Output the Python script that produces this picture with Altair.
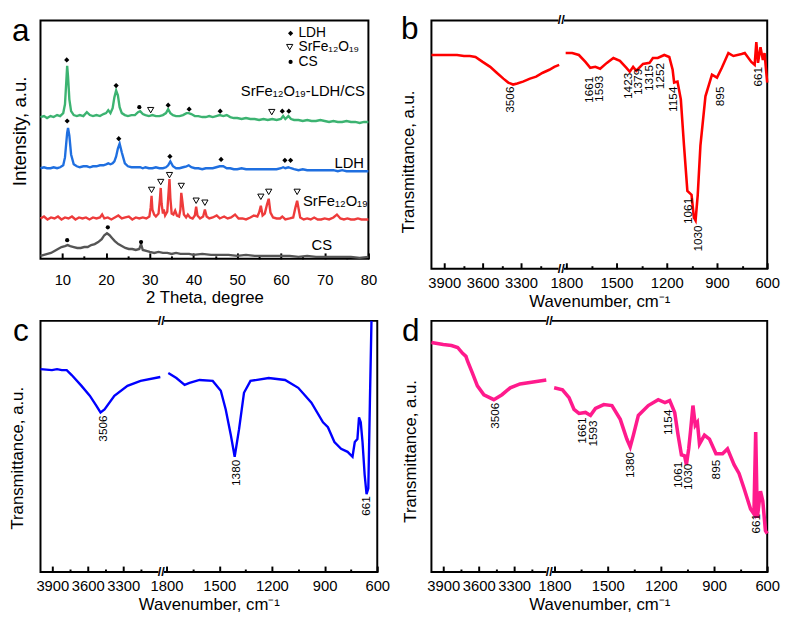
import altair as alt
import pandas as pd

FONT = "Liberation Sans"

# ---------------- (a) XRD patterns ----------------
theta_gb = [5, 5.8, 6.5, 7.3, 8, 8.8, 9.5, 10.2, 10.6, 10.9, 11.1, 11.3, 11.6, 12, 12.6, 13.3, 14, 14.8,
            15.6, 16.3, 17, 17.8, 18.6, 19.4, 20, 20.5, 21, 21.5, 21.9, 22.3, 22.7, 23.1, 23.6, 24.3, 25,
            25.8, 26.6, 27.3, 27.8, 28.4, 29, 29.8, 30.6, 31.4, 32.2, 33, 33.7, 34.2, 34.7, 35.3, 36, 36.8,
            37.6, 38.4, 38.9, 39.5, 40.3, 41.1, 42, 42.8, 43.6, 44.4, 45.2, 46, 46.8, 47.6, 48.4, 49.2, 50,
            51, 52, 53, 54, 55, 56, 57, 58, 59, 60, 60.5, 61, 61.7, 62.3, 63, 64, 65, 66, 67, 68, 69, 70,
            71, 72, 73, 74, 75, 76, 77, 78, 79, 80]
h_green = [144, 145, 143, 145, 144, 146, 145, 148, 157, 180, 196, 185, 162, 150, 146, 145, 146, 145,
           149, 146, 145, 146, 145, 147, 148, 151, 148, 153, 164, 171, 166, 154, 148, 146, 145,
           146, 146, 149, 150, 147, 146, 145, 146, 145, 145, 146, 148, 152, 148, 146, 145, 145,
           146, 148, 148, 147, 145, 145, 144, 144, 145, 144, 145, 146, 145, 146, 144, 143, 143,
           142, 143, 142, 142, 141, 142, 141, 142, 141, 142, 145, 142, 145, 142, 141, 141, 140, 141, 140, 140, 141, 140,
           139, 140, 139, 139, 140, 139, 139, 138, 139, 139]
h_blue = [92, 93, 92, 92, 93, 92, 93, 95, 103, 118, 128, 133, 125, 106, 96, 94, 93, 94,
          94, 93, 94, 94, 95, 95, 96, 97, 96, 97, 99, 104, 112, 117, 108, 97, 94,
          93, 93, 93, 93, 92, 93, 92, 92, 93, 92, 92, 93, 95, 99, 94, 92, 92,
          93, 94, 95, 93, 92, 92, 91, 92, 92, 92, 93, 94, 94, 92, 92, 91, 91,
          92, 91, 91, 91, 91, 91, 91, 91, 91, 92, 93, 92, 93, 92, 91, 90, 91, 90, 90, 90, 90, 90,
          90, 90, 89, 90, 89, 89, 89, 89, 89, 89]
theta_red = [5, 5.8, 6.6, 7.4, 8.2, 9, 9.8, 10.6, 11.4, 12.2, 13, 13.8, 14.6, 15.4, 16.2, 17, 17.8, 18.6,
             19.1, 19.6, 20.4, 21.2, 22, 22.8, 23.6, 24.4, 25.2, 26, 26.8, 27.6, 28.4, 29.2, 29.9, 30.2,
             30.4, 30.6, 31, 31.4, 32, 32.3, 32.5, 32.7, 33, 33.2, 33.5, 34, 34.3, 34.5, 34.7, 35, 35.4,
             35.8, 36.2, 36.7, 37, 37.2, 37.4, 37.8, 38.3, 38.7, 39.2, 39.8, 40.3, 40.6, 40.9, 41.5, 42.2,
             42.6, 43, 43.6, 44.4, 45.3, 46, 47, 47.8, 48.6, 49.5, 50.3, 51.2, 52, 53, 53.8, 54.6, 55,
             55.4, 55.8, 56.3, 56.8, 57.2, 57.6, 58.2, 59, 59.8, 60.3, 61, 62, 62.8, 63.3, 63.7, 64.4,
             65.2, 66, 66.8, 67.6, 68.4, 69.2, 70, 71, 72, 72.8, 73.6, 74.4, 75.2, 76, 76.8, 77.6, 78.4,
             79.2, 80]
h_red = [41, 43, 40, 42, 41, 43, 40, 42, 41, 43, 40, 42, 41, 42, 40, 42, 41, 42,
         45, 41, 42, 40, 42, 44, 41, 42, 43, 40, 42, 41, 42, 41, 43, 52,
         64, 50, 45, 43, 46, 60, 72, 56, 46, 50, 44, 48, 68, 81, 62, 46, 45,
         49, 44, 43, 50, 67, 60, 45, 42, 45, 42, 41, 44, 53, 44, 41, 43,
         50, 43, 41, 42, 44, 41, 43, 41, 42, 45, 41, 41, 40, 42, 44, 43, 47,
         54, 44, 46, 55, 61, 47, 42, 41, 41, 43, 40, 41, 42, 52, 59, 42,
         40, 41, 40, 42, 40, 40, 41, 40, 42, 45, 41, 40, 41, 40, 40, 41, 40,
         40, 40]
theta_cs = [5, 5.8, 6.6, 7.4, 8.2, 9, 9.8, 10.6, 11.2, 11.8, 12.6, 13.4, 14.2, 15, 15.8, 16.6, 17.4, 18.2,
            19, 19.6, 20.2, 20.8, 21.4, 22, 22.8, 23.6, 24.4, 25.2, 26, 26.8, 27.6, 28, 28.4, 29.2, 30,
            31, 32, 33, 34, 35, 36, 37, 38, 39, 40, 42, 44, 46, 48, 50, 52, 54, 56, 58, 60, 62, 64, 66,
            68, 70, 72, 74, 76, 78, 80]
h_cs = [3, 4, 5, 6, 8, 10, 12, 13, 14, 13, 12, 11, 11, 12, 12, 14, 15, 17,
        20, 24, 26, 24, 21, 18, 15, 13, 11, 10, 10, 9, 10, 15, 9, 8, 7,
        6, 7, 6, 6, 5, 6, 5, 5, 5, 4, 5, 4, 4, 4, 3, 4, 3, 3, 3, 3, 3, 2, 3,
        2, 2, 2, 2, 2, 1, 2]

sample_names = ["SrFe₁₂O₁₉-LDH/CS", "LDH", "SrFe₁₂O₁₉", "CS"]
sample_colors = ["#3cb371", "#1f6fe0", "#ee3b3b", "#555555"]
sample_label_theta = [79.2, 79.0, 79.9, 71.7]
sample_label_h = [170, 97, 59, 14]

ldh_mark_theta = [11.0, 22.3, 34.2, 39.0, 46.1, 60.3, 61.8, 11.1, 22.9, 34.6, 46.3, 60.9, 62.2]
ldh_mark_h = [202, 176, 156, 152, 150, 150, 150, 140, 122, 104, 101, 100, 100]
srfe_mark_theta = [30.2, 57.9, 30.4, 32.5, 34.5, 37.2, 40.6, 42.6, 55.4, 57.2, 63.7]
srfe_mark_h = [151, 149, 70, 78, 85, 74, 59, 57, 63, 68, 68]
cs_mark_theta = [27.6, 11.1, 20.4, 28.0]
cs_mark_h = [154, 19, 32, 17]

legend_names = ["LDH", "SrFe₁₂O₁₉", "CS"]
legend_sym_theta = [62.2, 62.0, 62.2]
legend_text_theta = [64.0, 64.0, 64.0]
legend_h = [229, 215, 200]

xrd_major = [10, 20, 30, 40, 50, 60, 70, 80]
xrd_minor = [15, 25, 35, 45, 55, 65, 75]

# ---------------- (b) FTIR SrFe12O19-LDH/CS ----------------
b_left_wn = [4000, 3900, 3800, 3746, 3700, 3656, 3600, 3541, 3490, 3438, 3400, 3362, 3330, 3285, 3230,
             3182, 3130, 3079, 3040, 3002]
b_left_h = [217, 217, 217, 216, 216, 215, 210, 205, 199, 193, 189, 187, 188, 190, 193,
            195, 199, 202, 205, 207]
b_right_wn = [1804, 1765, 1725, 1686, 1657, 1627, 1598, 1558, 1519, 1480, 1441, 1421, 1401, 1382, 1342,
              1303, 1283, 1254, 1215, 1185, 1165, 1156, 1136, 1116, 1097, 1077, 1052, 1038, 1028, 1015,
              999, 969, 930, 900, 871, 832, 802, 753, 734, 695, 675, 665, 655, 640, 626, 616, 600]
b_right_h = [219, 219, 217, 210, 204, 205, 203, 209, 214, 211, 204, 200, 205, 201, 208,
             209, 214, 214, 217, 215, 202, 189, 190, 172, 125, 79, 75, 52, 49, 75,
             125, 175, 197, 194, 204, 219, 216, 218, 219, 210, 207, 230, 209, 225, 212, 219, 189]
b_lab_left_wn = [3385]
b_lab_left_h = [185]
b_lab_left_txt = ["3506"]
b_lab_right_wn = [1666, 1606, 1430, 1372, 1305, 1240, 1164, 1071, 1012, 881, 655]
b_lab_right_h = [195, 196, 199, 203, 207, 209, 185, 72, 44, 185, 205]
b_lab_right_txt = ["1661", "1593", "1423", "1379", "1315", "1252", "1154", "1061", "1030", "895", "661"]

# ---------------- (c) FTIR LDH ----------------
c_left_wn = [4000, 3903, 3860, 3820, 3778, 3736, 3653, 3583, 3528, 3492, 3458, 3375, 3264, 3153, 2986]
c_left_h = [206, 205, 206, 205, 205, 200, 189, 179, 169, 162, 165, 179, 189, 194, 198]
c_right_wn = [1790, 1744, 1697, 1669, 1612, 1537, 1491, 1463, 1434, 1412, 1387, 1359, 1322, 1218, 1125,
              1050, 975, 909, 881, 844, 806, 769, 741, 728, 713, 704, 694, 684, 672, 661, 651, 642, 633]
c_right_h = [202, 197, 190, 192, 195, 194, 184, 165, 139, 117, 145, 182, 194, 197, 195,
             187, 172, 152, 147, 132, 125, 122, 117, 132, 135, 157, 152, 132, 99, 79, 85, 172, 255]
c_lab_left_wn = [3472]
c_lab_left_h = [159]
c_lab_left_txt = ["3506"]
c_lab_right_wn = [1406, 666]
c_lab_right_h = [114, 77]
c_lab_right_txt = ["1380", "661"]

# ---------------- (d) FTIR SrFe12O19 ----------------
d_left_wn = [4000, 3900, 3830, 3778, 3736, 3708, 3694, 3653, 3611, 3556, 3472, 3403, 3333, 3250, 3139, 3028]
d_left_h = [233, 231, 230, 228, 222, 219, 214, 202, 189, 180, 175, 180, 187, 191, 193, 195]
d_right_wn = [1802, 1755, 1718, 1690, 1662, 1625, 1597, 1569, 1522, 1476, 1429, 1392, 1373, 1355, 1327,
              1271, 1215, 1177, 1150, 1122, 1103, 1084, 1066, 1056, 1043, 1032, 1019, 1006, 994, 982,
              954, 926, 889, 852, 824, 787, 759, 731, 694, 675, 665, 656, 638, 625, 610, 600]
d_right_h = [187, 185, 177, 165, 161, 162, 159, 166, 170, 169, 155, 135, 127, 139, 159,
             169, 175, 172, 174, 162, 139, 119, 118, 109, 125, 144, 169, 149, 152, 130,
             139, 135, 120, 120, 125, 109, 100, 85, 64, 59, 142, 55, 82, 72, 42, 39]
d_lab_left_wn = [3458]
d_lab_left_h = [172]
d_lab_left_txt = ["3506"]
d_lab_right_wn = [1647, 1584, 1373, 1159, 1103, 1045, 888, 664]
d_lab_right_h = [157, 154, 122, 165, 112, 110, 114, 59]
d_lab_right_txt = ["1661", "1593", "1380", "1154", "1061", "1030", "895", "661"]

ir_left_major = [3900, 3600, 3300]
ir_left_minor = [3750, 3450, 3150]
ir_right_major = [1800, 1500, 1200, 900, 600]
ir_right_minor = [1650, 1350, 1050, 750]
ir_break_wn = 1830


def x_axis(values, size, labels=True, title=None, lpad=7, tpad=3):
    kw = dict(values=values, tickSize=size, offset=-size, domain=False, grid=False, ticks=True,
              tickColor="black", tickWidth=2, labels=labels, orient="bottom", labelFlush=False,
              labelOverlap=False, labelFont=FONT, labelFontSize=15, labelColor="black",
              labelPadding=lpad, format="d")
    if title:
        kw.update(title=title, titleFont=FONT, titleFontSize=17, titleFontWeight="normal",
                  titleColor="black", titlePadding=tpad)
    else:
        kw.update(title=None)
    return alt.Axis(**kw)


def y_axis(title, pad, ty, size=17):
    return alt.Axis(title=title, ticks=False, labels=False, domain=False, grid=False,
                    titleFont=FONT, titleFontSize=size, titleFontWeight="normal", titleColor="black",
                    titlePadding=pad, titleY=ty)


def letter_layer(ch, x, y):
    return alt.Chart(pd.DataFrame({"t": [ch]})).mark_text(
        font=FONT, fontSize=32, align="left", baseline="alphabetic", color="black"
    ).encode(text="t:N", x=alt.value(x), y=alt.value(y))


# ---------- panel a ----------
WA, HA = 333, 242
sxa = alt.Scale(domain=[5, 80], nice=False, zero=False)
sya = alt.Scale(domain=[0, HA], nice=False, zero=False)

rows = []
for name, th, hh in [(sample_names[0], theta_gb, h_green), (sample_names[1], theta_gb, h_blue),
                     (sample_names[2], theta_red, h_red), (sample_names[3], theta_cs, h_cs)]:
    for t, v in zip(th, hh):
        rows.append({"theta": t, "h": v, "sample": name})
xrd = pd.DataFrame(rows)

a_lines = alt.Chart(xrd).mark_line(strokeWidth=2.4).encode(
    x=alt.X("theta:Q", scale=sxa, axis=x_axis(xrd_major, 6, title="2 Theta, degree", lpad=14, tpad=2)),
    y=alt.Y("h:Q", scale=sya, axis=y_axis("Intensity, a.u.", 11, 112, size=19)),
    color=alt.Color("sample:N", scale=alt.Scale(domain=sample_names, range=sample_colors), legend=None),
    detail="sample:N",
)
a_minor = alt.Chart(xrd).mark_point(opacity=0).encode(
    x=alt.X("theta:Q", scale=sxa, axis=x_axis(xrd_minor, 3, labels=False)),
    y=alt.Y("h:Q", scale=sya, axis=None),
)
a_dia = alt.Chart(pd.DataFrame({"theta": ldh_mark_theta + legend_sym_theta[:1],
                                "h": ldh_mark_h + legend_h[:1]})).mark_point(
    shape="diamond", filled=True, color="black", size=28, opacity=1).encode(
    x=alt.X("theta:Q", scale=sxa, axis=None), y=alt.Y("h:Q", scale=sya, axis=None))
a_tri = alt.Chart(pd.DataFrame({"theta": srfe_mark_theta + legend_sym_theta[1:2],
                                "h": srfe_mark_h + legend_h[1:2]})).mark_point(
    shape="triangle-down", filled=False, color="black", size=40, strokeWidth=1, opacity=1).encode(
    x=alt.X("theta:Q", scale=sxa, axis=None), y=alt.Y("h:Q", scale=sya, axis=None))
a_dot = alt.Chart(pd.DataFrame({"theta": cs_mark_theta + legend_sym_theta[2:],
                                "h": cs_mark_h + legend_h[2:]})).mark_circle(
    color="black", size=18, opacity=1).encode(
    x=alt.X("theta:Q", scale=sxa, axis=None), y=alt.Y("h:Q", scale=sya, axis=None))
a_leg_txt = alt.Chart(pd.DataFrame({"theta": legend_text_theta, "h": legend_h, "t": legend_names})).mark_text(
    font=FONT, fontSize=14, align="left", baseline="middle", color="black").encode(
    x=alt.X("theta:Q", scale=sxa, axis=None), y=alt.Y("h:Q", scale=sya, axis=None), text="t:N")
a_names = alt.Chart(pd.DataFrame({"theta": sample_label_theta, "h": sample_label_h, "t": sample_names})).mark_text(
    font=FONT, fontSize=15, align="right", baseline="middle", color="black").encode(
    x=alt.X("theta:Q", scale=sxa, axis=None), y=alt.Y("h:Q", scale=sya, axis=None), text="t:N")

panel_a = alt.layer(a_lines, a_minor, a_dia, a_tri, a_dot, a_leg_txt, a_names,
                    letter_layer("a", -29, 21)).resolve_axis(
    x="independent", y="independent").properties(width=WA, height=HA)


# ---------- IR panel builder ----------
def ir_panel(letter, color, lw, W, H, L, B, lwn, lh, rwn, rh, llw, llh, llt, lrw, lrh, lrt,
             tpad, ty, lx, ly):
    sl = alt.Scale(domain=[4000 - W / L, 4000], reverse=True, nice=False, zero=False)
    sr = alt.Scale(domain=[600, 1800 + B * 1200 / (W - B)], reverse=True, nice=False, zero=False)
    sy = alt.Scale(domain=[0, H], nice=False, zero=False)
    dl = pd.DataFrame({"wn": lwn, "h": lh})
    dr = pd.DataFrame({"wn": rwn, "h": rh})
    left = alt.Chart(dl).mark_line(color=color, strokeWidth=lw).encode(
        x=alt.X("wn:Q", scale=sl, axis=x_axis(ir_left_major, 6)),
        y=alt.Y("h:Q", scale=sy, axis=y_axis("Transmittance, a.u.", tpad, ty)))
    left_minor = alt.Chart(dl).mark_point(opacity=0).encode(
        x=alt.X("wn:Q", scale=sl, axis=x_axis(ir_left_minor, 3, labels=False)),
        y=alt.Y("h:Q", scale=sy, axis=None))
    right = alt.Chart(dr).mark_line(color=color, strokeWidth=lw).encode(
        x=alt.X("wn:Q", scale=sr, axis=x_axis(ir_right_major, 6, title="Wavenumber, cm⁻¹")),
        y=alt.Y("h:Q", scale=sy, axis=None))
    right_minor = alt.Chart(dr).mark_point(opacity=0).encode(
        x=alt.X("wn:Q", scale=sr, axis=x_axis(ir_right_minor, 3, labels=False)),
        y=alt.Y("h:Q", scale=sy, axis=None))
    lab_l = alt.Chart(pd.DataFrame({"wn": llw, "h": llh, "t": llt})).mark_text(
        font=FONT, fontSize=12, angle=270, align="right", baseline="middle", color="black").encode(
        x=alt.X("wn:Q", scale=sl, axis=None), y=alt.Y("h:Q", scale=sy, axis=None), text="t:N")
    lab_r = alt.Chart(pd.DataFrame({"wn": lrw, "h": lrh, "t": lrt})).mark_text(
        font=FONT, fontSize=12, angle=270, align="right", baseline="middle", color="black").encode(
        x=alt.X("wn:Q", scale=sr, axis=None), y=alt.Y("h:Q", scale=sy, axis=None), text="t:N")
    gap = alt.Chart(pd.DataFrame({"wn": [ir_break_wn, ir_break_wn], "h": [H, 0]})).mark_point(
        shape="square", filled=True, color="white", size=30, opacity=1).encode(
        x=alt.X("wn:Q", scale=sr, axis=None), y=alt.Y("h:Q", scale=sy, axis=None))
    brk = alt.Chart(pd.DataFrame({"wn": [ir_break_wn, ir_break_wn], "h": [H, 0], "t": ["//", "//"]})).mark_text(
        font=FONT, fontSize=13, fontWeight="bold", align="center", baseline="middle", color="black").encode(
        x=alt.X("wn:Q", scale=sr, axis=None), y=alt.Y("h:Q", scale=sy, axis=None), text="t:N")
    return alt.layer(left, left_minor, right, right_minor, lab_l, lab_r, gap, brk,
                     letter_layer(letter, lx, ly)).resolve_scale(x="independent").resolve_axis(
        x="independent", y="independent").properties(width=W, height=H)


panel_b = ir_panel("b", "#ff0000", 2.6, 341, 252, 0.13, 137, b_left_wn, b_left_h, b_right_wn, b_right_h,
                   b_lab_left_wn, b_lab_left_h, b_lab_left_txt, b_lab_right_wn, b_lab_right_h, b_lab_right_txt,
                   14, 143, -31, 19)
panel_c = ir_panel("c", "#0000ff", 2.4, 342, 255, 0.12, 128, c_left_wn, c_left_h, c_right_wn, c_right_h,
                   c_lab_left_wn, c_lab_left_h, c_lab_left_txt, c_lab_right_wn, c_lab_right_h, c_lab_right_txt,
                   14, 139, -28, 20)
panel_d = ir_panel("d", "#ff1a8c", 3.6, 341, 255, 0.12, 125, d_left_wn, d_left_h, d_right_wn, d_right_h,
                   d_lab_left_wn, d_lab_left_h, d_lab_left_txt, d_lab_right_wn, d_lab_right_h, d_lab_right_txt,
                   12, 132, -30, 20)

chart = alt.ConcatChart(
    concat=[panel_a, panel_b, panel_c, panel_d], columns=2,
    spacing={"row": 53, "column": 55}, bounds="flush"
).properties(padding=0, background="white").configure_view(stroke="black", strokeWidth=2)

chart.save("out.html", embed_options={"renderer": "svg", "actions": False})
